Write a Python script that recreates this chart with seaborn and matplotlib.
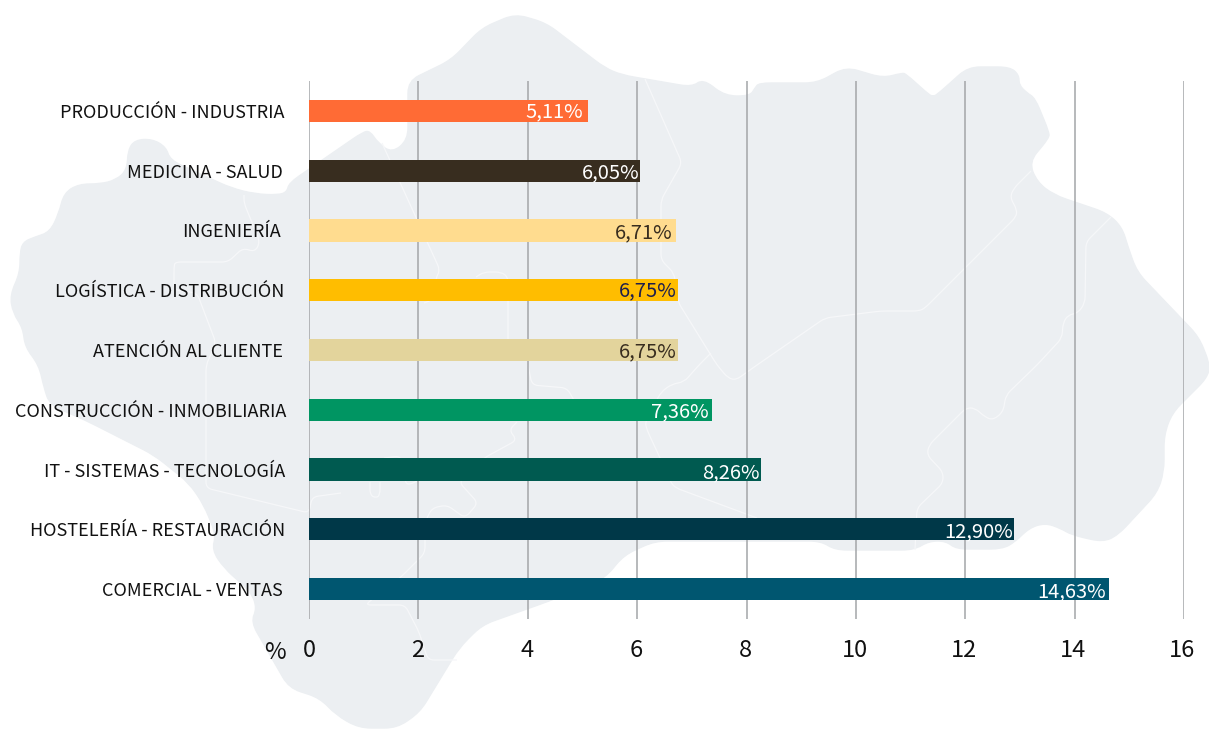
# Sectores con mas ofertas de empleo, barras horizontales sobre el mapa de fondo
import matplotlib
matplotlib.use("Agg")
import matplotlib.pyplot as plt
from matplotlib.patches import PathPatch
from matplotlib.path import Path
from matplotlib.transforms import ScaledTranslation
import numpy as np
import pandas as pd
import seaborn as sns

# Data, top to bottom
sectors = ["PRODUCCIÓN - INDUSTRIA", "MEDICINA - SALUD", "INGENIERÍA",
           "LOGÍSTICA - DISTRIBUCIÓN", "ATENCIÓN AL CLIENTE",
           "CONSTRUCCIÓN - INMOBILIARIA", "IT - SISTEMAS - TECNOLOGÍA",
           "HOSTELERÍA - RESTAURACIÓN", "COMERCIAL - VENTAS"]
percent = [5.11, 6.05, 6.71, 6.75, 6.75, 7.36, 8.26, 12.90, 14.63]
bar_colors = ["#FF6B35", "#382D1F", "#FFDC8F", "#FFBD00", "#E3D49C",
              "#009562", "#005A50", "#003848", "#005670"]
value_colors = ["#FFFFFF", "#FFFFFF", "#382D1F", "#1F1F4D", "#382D1F",
                "#FFFFFF", "#FFFFFF", "#FFFFFF", "#FFFFFF"]
x_ticks = [0, 2, 4, 6, 8, 10, 12, 14, 16]

# Background map outline, traced in image pixels
map_outline = [
    (515, 14), (546, 23), (605, 68), (622, 75), (692, 87), (703, 79), (725, 96),
    (750, 96), (755, 88), (759, 83), (817, 83), (846, 67), (883, 78), (902, 73),
    (906, 74), (927, 93), (933, 97), (939, 93), (968, 67), (1010, 67), (1019, 75),
    (1019, 85), (1027, 93), (1035, 98), (1049, 132), (1049, 138), (1029, 162),
    (1037, 182), (1054, 195), (1107, 213), (1122, 227), (1128, 247), (1137, 272),
    (1199, 337), (1210, 365), (1207, 378), (1172, 413), (1164, 435), (1164, 472),
    (1157, 493), (1118, 535), (1103, 542), (1072, 535), (1060, 528), (1045, 523),
    (1029, 528), (1015, 542), (1002, 549), (956, 549), (946, 541), (929, 541),
    (914, 550), (835, 550), (821, 541), (655, 541), (624, 555), (605, 578),
    (552, 600), (482, 625), (459, 648), (420, 712), (397, 728), (359, 728),
    (336, 715), (320, 698), (289, 688), (251, 622), (257, 608), (251, 592),
    (224, 568), (212, 550), (216, 535), (204, 505), (189, 483), (154, 455),
    (85, 420), (50, 405), (44, 388), (39, 365), (25, 347), (23, 328), (13, 313),
    (10, 295), (20, 273), (20, 253), (23, 242), (35, 237), (50, 232), (59, 213),
    (64, 193), (79, 184), (100, 184), (116, 180), (127, 170), (128, 150),
    (135, 140), (152, 139), (166, 147), (170, 160), (231, 188), (255, 194),
    (278, 195), (287, 192), (289, 183), (363, 132), (370, 131), (378, 143),
    (392, 153), (408, 140), (408, 81), (451, 60), (482, 28),
]

# Inner province borders of the map, same pixel space
map_borders = [
    [(645, 79), (682, 163), (661, 200), (661, 260), (674, 273), (678, 302),
     (717, 365), (728, 378), (736, 380), (757, 365), (825, 318), (881, 311),
     (919, 311), (925, 308), (1016, 217), (1017, 210), (1010, 197), (1014, 188),
     (1031, 171)],
    [(1111, 217), (1086, 242), (1085, 303), (1078, 313), (1068, 315), (1063, 323),
     (1062, 338), (1037, 365), (1006, 395), (1003, 412), (993, 420), (985, 417),
     (975, 408), (966, 408), (929, 445), (927, 455), (943, 472), (943, 483),
     (917, 508), (915, 550)],
    [(711, 353), (699, 365), (684, 382), (672, 384), (661, 392), (645, 422),
     (647, 430), (661, 460), (671, 483), (676, 488), (757, 518)],
    [(244, 195), (244, 203), (260, 242), (255, 252), (243, 248), (228, 262),
     (175, 262), (174, 267), (174, 290), (197, 293), (216, 343), (206, 365),
     (206, 488), (309, 513), (312, 497), (341, 493)],
    [(382, 143), (440, 270), (436, 278), (432, 300), (424, 303)],
    [(476, 277), (484, 272), (501, 272), (508, 277), (508, 340)],
    [(528, 365), (532, 385), (567, 388), (575, 402)],
    [(517, 422), (509, 430), (517, 440), (484, 458), (459, 482), (478, 503),
     (465, 518), (447, 505), (432, 508), (425, 522), (425, 553), (401, 577),
     (365, 605), (405, 605), (419, 632), (428, 660), (457, 660)],
    [(370, 482), (370, 495), (376, 498), (380, 495), (380, 482)],
    [(384, 458), (401, 456), (405, 482), (409, 485), (419, 480)],
]

# Small per-label nudges, in pixels
label_shift = [0, -1, -3, 0, -1, 2, 1, 1, -1]
value_pad = [5, 0, 3, 2, 2, 3, 1, 1, 3]
value_drop = [1, 2, 2, 1, 2, 2, 3, 2, 3]
tick_shift = [0, -1, -1, -1, -1, -1, -1, -2, -2]


def rounded_path(points, radius, closed):
    # Straight runs stay straight, every corner becomes a small quadratic curve
    pts = [np.array(p, dtype=float) for p in points]
    n = len(pts)
    verts = []
    codes = []
    corners = range(n) if closed else range(1, n - 1)
    if not closed:
        verts.append(pts[0])
        codes.append(Path.MOVETO)
    for i in corners:
        prev_pt, pt, next_pt = pts[i - 1], pts[i], pts[(i + 1) % n]
        r_in = min(radius, np.linalg.norm(pt - prev_pt) / 2)
        r_out = min(radius, np.linalg.norm(next_pt - pt) / 2)
        start = pt + (prev_pt - pt) / np.linalg.norm(prev_pt - pt) * r_in
        end = pt + (next_pt - pt) / np.linalg.norm(next_pt - pt) * r_out
        verts.append(start)
        codes.append(Path.MOVETO if (closed and not verts[:-1]) else Path.LINETO)
        verts.extend([pt, end])
        codes.extend([Path.CURVE3, Path.CURVE3])
    if closed:
        verts.append(verts[0])
        codes.append(Path.CLOSEPOLY)
    else:
        verts.append(pts[-1])
        codes.append(Path.LINETO)
    return Path(verts, codes)


sns.set_theme(style="white")
plt.rcParams["font.family"] = ["Noto Sans CJK JP", "DejaVu Sans"]

df = pd.DataFrame({"sector": sectors, "percent": percent})

fig = plt.figure(figsize=(12.09, 7.29), dpi=100)

# Map goes on its own full size axes behind the chart
bg = fig.add_axes([0, 0, 1, 1], zorder=0)
bg.set_xlim(0, 1209)
bg.set_ylim(729, 0)
bg.axis("off")
bg.add_patch(PathPatch(rounded_path(map_outline, 12, True), facecolor="#ECEFF2",
                       edgecolor="#ECEFF2", linewidth=1))
for border in map_borders:
    bg.add_patch(PathPatch(rounded_path(border, 6, False), facecolor="none",
                           edgecolor="#F6F7F9", linewidth=0.9))

ax = fig.add_axes([309 / 1209, 1 - 619 / 729, 875 / 1209, 538 / 729], zorder=1)
ax.patch.set_alpha(0)

sns.barplot(data=df, y="sector", x="percent", hue="sector", palette=bar_colors,
            width=0.37, saturation=1, legend=False, dodge=False, linewidth=0,
            ax=ax, zorder=3)

ax.set_xlim(0, 16)
ax.set_ylim(8.5, -0.5)
ax.set_xticks(x_ticks)
ax.set_xlabel("")
ax.set_ylabel("")
ax.grid(axis="x", color="#A3A5A8", linewidth=1.1)
ax.set_axisbelow(True)
sns.despine(ax=ax, left=True, bottom=True)
ax.tick_params(axis="x", length=0, pad=14.5, labelsize=17, labelcolor="#111111")
ax.tick_params(axis="y", length=0, pad=18, labelsize=13, labelcolor="#111111")

for label, shift in zip(ax.get_yticklabels(), label_shift):
    label.set_x(shift / 875)
for label, shift in zip(ax.get_xticklabels(), tick_shift):
    label.set_transform(label.get_transform() + ScaledTranslation(shift / 100, 0, fig.dpi_scale_trans))

# Value labels, right aligned inside the bars
for i, value in enumerate(percent):
    ax.annotate(f"{value:.2f}%".replace(".", ","), (value, i),
                xytext=(-value_pad[i] * 0.72, -value_drop[i] * 0.72),
                textcoords="offset points", ha="right", va="center",
                fontsize=14.5, color=value_colors[i], zorder=5)

ax.annotate("%", (0, 0), xycoords="axes fraction", xytext=(-17, -15.5),
            textcoords="offset points", ha="right", va="top", fontsize=17, color="#111111")

fig.savefig("out.png", dpi=100)
